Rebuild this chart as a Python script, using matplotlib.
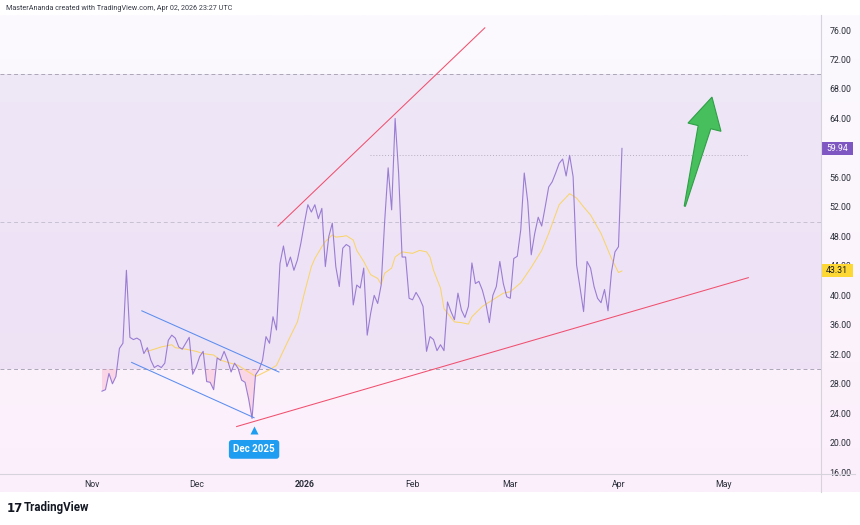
import matplotlib
matplotlib.use("Agg")
import matplotlib.pyplot as plt
import matplotlib.dates as mdates
import matplotlib.transforms as mtransforms
from matplotlib.colors import LinearSegmentedColormap
from matplotlib.patches import Polygon, Rectangle
from matplotlib.lines import Line2D
import numpy as np
import pandas as pd

# RSI (daily)
rsi_start = "2025-11-04"
rsi = [27.0, 27.2, 29.4, 28.0, 29.0, 32.8, 33.5, 43.4, 34.3, 34.0,
       34.2, 33.9, 32.1, 32.9, 31.2, 30.2, 30.5, 30.2, 30.8, 33.9,
       34.6, 34.2, 33.0, 32.7, 33.5, 34.3, 29.3, 30.3, 31.7, 32.4,
       28.3, 28.2, 27.2, 31.5, 31.2, 32.4, 31.2, 29.6, 30.8, 30.1,
       28.5, 28.2, 26.0, 23.3, 29.2, 29.9, 31.2, 34.4, 33.5, 37.1,
       35.3, 44.3, 46.7, 43.9, 45.2, 43.4, 44.8, 47.1, 49.8, 52.3,
       51.3, 52.3, 50.4, 51.8, 43.9, 48.0, 49.8, 43.9, 41.2, 46.4,
       46.9, 46.6, 38.7, 41.4, 41.0, 43.7, 34.6, 37.6, 40.0, 38.9,
       41.4, 50.0, 57.3, 51.6, 64.0, 56.6, 45.2, 45.2, 39.6, 39.4,
       40.4, 39.6, 38.5, 32.4, 34.4, 34.0, 32.5, 33.3, 32.5, 39.1,
       37.8, 36.7, 40.3, 38.0, 37.0, 38.5, 44.4, 41.6, 41.9, 40.7,
       38.9, 36.3, 40.0, 41.2, 44.6, 41.6, 39.8, 39.6, 45.0, 45.3,
       48.9, 56.6, 52.7, 45.5, 48.4, 50.6, 49.4, 52.0, 54.7, 55.4,
       56.6, 57.9, 58.5, 56.2, 59.0, 56.1, 44.1, 41.0, 37.8, 44.6,
       43.7, 41.2, 39.6, 39.0, 40.8, 37.9, 43.2, 45.9, 46.6, 59.94]

# RSI-based moving average, sampled along the yellow curve
ma_dates = ["2025-11-17", "2025-11-21", "2025-11-24", "2025-11-25", "2025-11-28",
            "2025-12-01", "2025-12-03", "2025-12-06", "2025-12-08", "2025-12-13",
            "2025-12-15", "2025-12-18", "2025-12-19", "2025-12-22", "2025-12-24",
            "2025-12-27", "2025-12-30", "2026-01-01", "2026-01-03", "2026-01-04",
            "2026-01-06", "2026-01-07", "2026-01-09", "2026-01-10", "2026-01-12",
            "2026-01-13", "2026-01-15", "2026-01-16", "2026-01-18", "2026-01-20",
            "2026-01-22", "2026-01-23", "2026-01-24", "2026-01-26", "2026-01-27",
            "2026-01-29", "2026-02-01", "2026-02-03", "2026-02-05", "2026-02-06",
            "2026-02-07", "2026-02-09", "2026-02-10", "2026-02-13", "2026-02-15",
            "2026-02-17", "2026-02-18", "2026-02-21", "2026-02-24", "2026-02-27",
            "2026-03-01", "2026-03-04", "2026-03-07", "2026-03-10", "2026-03-12",
            "2026-03-15", "2026-03-18", "2026-03-20", "2026-03-22", "2026-03-24",
            "2026-03-27", "2026-03-30", "2026-04-01", "2026-04-02"]
ma = [32.4, 33.0, 33.3, 32.9, 32.7, 32.4, 32.1, 31.9, 31.2, 30.5,
      29.9, 29.0, 29.2, 29.9, 30.5, 33.5, 36.4, 40.3, 43.9, 45.0,
      46.6, 47.3, 48.2, 47.9, 48.0, 48.1, 47.5, 46.1, 44.6, 42.8,
      42.3, 41.5, 43.0, 43.7, 45.2, 45.9, 45.7, 46.1, 45.9, 45.2,
      43.4, 41.0, 38.2, 36.4, 36.3, 36.1, 37.1, 38.5, 39.4, 40.3,
      40.5, 41.7, 43.8, 46.1, 48.4, 52.3, 53.8, 53.2, 52.0, 50.9,
      48.4, 45.0, 43.1, 43.31]

# drawings (date, value)
red_upper = [("2025-12-24 10:00", 49.4), ("2026-02-21 17:00", 76.3)]
red_lower = [("2025-12-12 14:00", 22.2), ("2026-05-08 05:00", 42.4)]
blue_upper = [("2025-11-15 10:00", 37.9), ("2025-12-24 17:00", 29.6)]
blue_lower = [("2025-11-12 12:00", 30.9), ("2025-12-17 14:00", 23.4)]
level_line = [("2026-01-19 19:00", 59.0), ("2026-05-08 05:00", 59.0)]
arrow_tail = ("2026-04-20 00:00", 52.1)
arrow_tip = ("2026-04-27 19:00", 66.9)
marker_date = "2025-12-17 14:00"
marker_text = "Dec 2025"

yticks = list(range(16, 77, 4))
hidden_ticks = [60]  # covered by the last-value label on the scale
month_ticks = ["2025-11-01", "2025-12-01", "2026-01-01", "2026-02-01",
               "2026-03-01", "2026-04-01", "2026-05-01"]
month_labels = ["Nov", "Dec", "2026", "Feb", "Mar", "Apr", "May"]

plt.rcParams["font.family"] = ["Roboto", "DejaVu Sans"]

W, H = 860, 525
fig = plt.figure(figsize=(W / 100, H / 100), dpi=100)
fig.patch.set_facecolor("white")

# soft vertical background gradient behind chart + scales
bg = fig.add_axes([0, 1 - 492 / H, 1, (492 - 15) / H], zorder=0)
cmap = LinearSegmentedColormap.from_list("bg", ["#FCFAFE", "#FBEFFB"])
bg.imshow(np.linspace(0, 1, 256).reshape(-1, 1), aspect="auto", cmap=cmap,
          extent=[0, 1, 0, 1])
bg.axis("off")

ax = fig.add_axes([0, 1 - 474 / H, 821 / W, (474 - 15) / H], zorder=1)
ax.set_facecolor("none")

dates = pd.date_range(rsi_start, periods=len(rsi), freq="D")
rsi_arr = np.array(rsi)
ma_dt = pd.to_datetime(ma_dates)

origin = pd.Timestamp("2025-11-01")
ax.set_xlim(origin - pd.Timedelta(days=26.22), origin + pd.Timedelta(days=209.03))
ax.set_ylim(15.76, 78.04)

# RSI band and levels
ax.axhspan(30, 70, color="#7E57C2", alpha=0.10, lw=0, zorder=1)
ax.axhline(70, color="#ABA6B8", lw=0.7, ls=(0, (4, 3)), zorder=2)
ax.axhline(30, color="#ABA6B8", lw=0.7, ls=(0, (4, 3)), zorder=2)
ax.axhline(50, color="#C6C0D2", lw=0.7, ls=(0, (4, 3)), zorder=2)

# oversold fill
ax.fill_between(dates, rsi_arr, 30, where=rsi_arr < 30, interpolate=True,
                color="#F48FB1", alpha=0.28, lw=0, zorder=2)

ax.plot(ma_dt, ma, color="#F9D46A", lw=0.75, zorder=3)
ax.plot(dates, rsi_arr, color="#9A7DD3", lw=0.8, zorder=4)


def seg(pts, **kw):
    xs = [pd.Timestamp(p[0]) for p in pts]
    ys = [p[1] for p in pts]
    ax.plot(xs, ys, **kw)


seg(red_upper, color="#F0506E", lw=0.75, zorder=5)
seg(red_lower, color="#F0506E", lw=0.75, zorder=5)
seg(blue_upper, color="#5B8DEF", lw=0.75, zorder=5)
seg(blue_lower, color="#5B8DEF", lw=0.75, zorder=5)
seg(level_line, color="#B5B0BE", lw=0.7, ls=(0, (1, 2)), zorder=2)

# green arrow, shaped in pixel space
fig.canvas.draw()
td = ax.transData
t = np.array(td.transform((mdates.date2num(pd.Timestamp(arrow_tail[0])), arrow_tail[1])))
p = np.array(td.transform((mdates.date2num(pd.Timestamp(arrow_tip[0])), arrow_tip[1])))
u = (p - t) / np.linalg.norm(p - t)
n = np.array([-u[1], u[0]])
hb = p - u * 31
verts_px = [t + n * 0.6, hb + n * 6.5, hb + n * 17, p, hb - n * 17, hb - n * 6.5, t - n * 0.6]
verts = td.inverted().transform(verts_px)
ax.add_patch(Polygon(verts, closed=True, fc="#47BF5C", ec="#2F9F47", lw=0.8, zorder=6))

# date marker
mx = pd.Timestamp(marker_date)
ax.plot([mx], [21.7], marker="^", ms=6, color="#1E9DF1", mec="none", zorder=7, clip_on=False)
ax.text(mx, 19.1, marker_text, ha="center", va="center", color="white",
        fontsize=7, fontweight="bold", zorder=8,
        bbox=dict(boxstyle="round,pad=0.45,rounding_size=0.3", fc="#1E9DF1", ec="none"))

# axes / ticks
for s in ax.spines.values():
    s.set_visible(False)
ax.set_yticks(yticks)
ax.set_yticklabels(["" if v in hidden_ticks else f"{v:.2f}" for v in yticks])
ax.tick_params(axis="y", left=False, labelleft=False, right=True, labelright=True,
               length=0, pad=6, labelsize=6.3, labelcolor="#2A2E39")
ax.set_xticks([pd.Timestamp(m) for m in month_ticks])
ax.set_xticklabels(month_labels)
ax.tick_params(axis="x", length=0, pad=4, labelsize=6.3, labelcolor="#2A2E39")
for lab in ax.get_xticklabels():
    if lab.get_text() == "2026":
        lab.set_fontweight("bold")

# last value labels on the price scale
blend = mtransforms.blended_transform_factory(ax.transAxes, ax.transData)
box_w = 32 / 821
box_h = 13 / 7.37
for val, fc, tc in [(rsi[-1], "#7E57C2", "white"), (ma[-1], "#FDD835", "#131722")]:
    ax.add_patch(Rectangle((1.0, val - box_h / 2), box_w, box_h, transform=blend,
                           fc=fc, ec="none", zorder=9, clip_on=False))
    ax.text(1.0 + box_w / 2, val, f"{val:.2f}", transform=blend, ha="center", va="center",
            fontsize=6.3, color=tc, zorder=10, clip_on=False)

# separators
fig.add_artist(Line2D([821 / W, 821 / W], [1 - 492 / H, 1 - 15 / H], color="#D6D3DC", lw=0.8))
fig.add_artist(Line2D([0, 855 / W], [1 - 474 / H, 1 - 474 / H], color="#D6D3DC", lw=0.8))

# header & footer
fig.text(6 / W, 1 - 9 / H, "MasterAnanda created with TradingView.com, Apr 02, 2026 23:27 UTC",
         fontsize=5.2, color="#363A45", va="center", ha="left")
fig.text(7 / W, 1 - 508 / H, "17", fontsize=8.5, fontweight="heavy", color="#131722",
         va="center", ha="left", family="DejaVu Sans")
fig.text(24 / W, 1 - 508 / H, "TradingView", fontsize=8.3, fontweight="bold",
         color="#131722", va="center", ha="left")

fig.savefig("out.png", dpi=100)
